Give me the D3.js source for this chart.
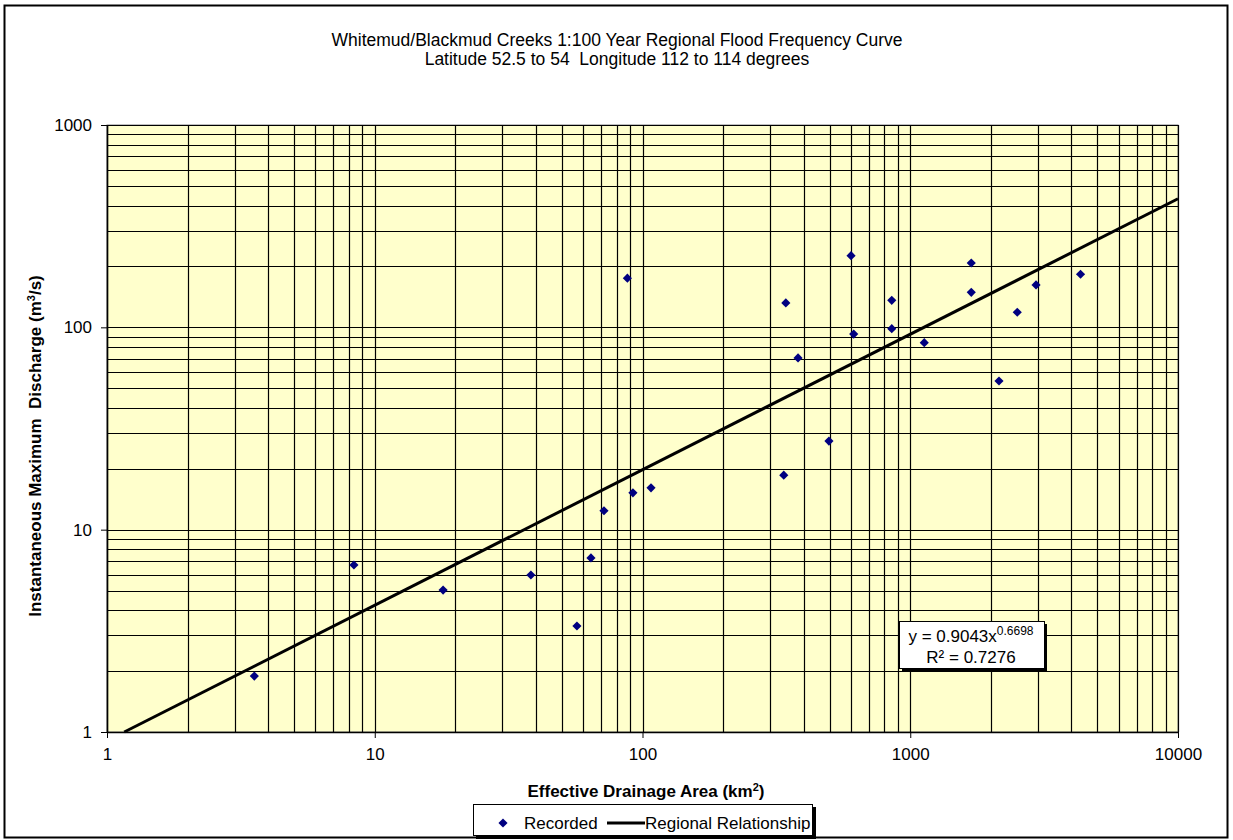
<!DOCTYPE html>
<html>
<head>
<meta charset="utf-8">
<script src="https://cdn.jsdelivr.net/npm/d3@7"></script>
<style>
  body { margin: 0; background: #fff; }
  text { font-family: "Liberation Sans", Arial, sans-serif; fill: #000; }
</style>
</head>
<body>
<div id="chart"></div>
<script>
// Recorded stations: drainage area (km2) and 1:100 year discharge (m3/s)
var area = [3.55, 8.36, 18.0, 38.3, 56.9, 64.2, 71.8, 87.8, 92.1, 107.6,
            337, 343, 381, 497, 601, 615, 853, 853, 1128, 1690,
            1690, 2145, 2510, 2950, 4325];
var discharge = [1.89, 6.69, 5.03, 5.97, 3.34, 7.25, 12.4, 175, 15.2, 16.1,
                 18.6, 132, 70.6, 27.4, 226, 92.6, 136, 98.5, 84, 208,
                 149, 54.3, 118.7, 162, 183];

// Regional relationship end points
var fitArea = [1.16, 10000];
var fitDischarge = [1.0, 432];

var xMajor = [1, 10, 100, 1000, 10000];
var yMajor = [1, 10, 100, 1000];

var titleLines = ["Whitemud/Blackmud Creeks 1:100 Year Regional Flood Frequency Curve",
                  "Latitude 52.5 to 54  Longitude 112 to 114 degrees"];

var svgWidth = 1233;
var svgHeight = 840;

var margin = { top: 125, right: 55, bottom: 108, left: 107 };
var width = 1178 - margin.left;
var height = 732 - margin.top;

var svg = d3.select("#chart")
  .append("svg")
  .attr("width", svgWidth)
  .attr("height", svgHeight);

// outer frame
svg.append("rect")
  .attr("x", 4.5).attr("y", 5.5)
  .attr("width", 1223).attr("height", 832)
  .attr("fill", "#fff")
  .attr("stroke", "#000")
  .attr("stroke-width", 2);

// title
svg.selectAll(".title").data(titleLines).enter().append("text")
  .attr("class", "title")
  .attr("x", 617)
  .attr("y", (d, i) => 46 + i * 19)
  .attr("text-anchor", "middle")
  .attr("font-size", "17.5px")
  .style("white-space", "pre")
  .text(d => d);

var chartGroup = svg.append("g")
  .attr("transform", `translate(${margin.left}, ${margin.top})`);

var xScale = d3.scaleLog().domain([1, 10000]).range([0, width]);
var yScale = d3.scaleLog().domain([1, 1000]).range([height, 0]);

// plot background
chartGroup.append("rect")
  .attr("width", width).attr("height", height)
  .attr("fill", "#ffffcc")
  .attr("stroke", "#808080");

// grid lines
chartGroup.selectAll(".vgrid").data(xScale.ticks()).enter().append("line")
  .attr("x1", d => Math.round(xScale(d)) + 0.5)
  .attr("x2", d => Math.round(xScale(d)) + 0.5)
  .attr("y1", 0).attr("y2", height)
  .attr("stroke", "#000").attr("stroke-width", 1.2);

chartGroup.selectAll(".hgrid").data(yScale.ticks()).enter().append("line")
  .attr("y1", d => Math.round(yScale(d)) + 0.5)
  .attr("y2", d => Math.round(yScale(d)) + 0.5)
  .attr("x1", 0).attr("x2", width)
  .attr("stroke", "#000").attr("stroke-width", 1.2);

// axes
var bottomAxis = d3.axisBottom(xScale).tickValues(xMajor)
  .tickFormat(d3.format("d")).tickSize(6).tickSizeOuter(0).tickPadding(10);
var leftAxis = d3.axisLeft(yScale).tickValues(yMajor)
  .tickFormat(d3.format("d")).tickSize(6).tickSizeOuter(0).tickPadding(9);

var xg = chartGroup.append("g")
  .attr("transform", `translate(0, ${height})`)
  .call(bottomAxis);
var yg = chartGroup.append("g").call(leftAxis);

[xg, yg].forEach(function(g) {
  g.selectAll("path").attr("stroke", "#000").attr("stroke-width", 1.5);
  g.selectAll("line").attr("stroke", "#000");
  g.selectAll("text")
    .attr("font-family", "'Liberation Sans', Arial, sans-serif")
    .attr("font-size", "17px")
    .attr("fill", "#222");
});

// regional relationship
chartGroup.append("path")
  .datum(fitArea.map((a, i) => [a, fitDischarge[i]]))
  .attr("d", d3.line().x(d => xScale(d[0])).y(d => yScale(d[1])))
  .attr("stroke", "#000")
  .attr("stroke-width", 3)
  .attr("fill", "none");

// recorded points
var diamond = d3.symbol().type(d3.symbolSquare).size(42);
chartGroup.selectAll(".pt")
  .data(area.map((a, i) => [a, discharge[i]]))
  .enter().append("path")
  .attr("d", diamond)
  .attr("transform", d => `translate(${xScale(d[0])}, ${yScale(d[1])}) rotate(45)`)
  .attr("fill", "#000080");

// equation box
var eq = svg.append("g");
eq.append("rect")
  .attr("x", 902).attr("y", 624).attr("width", 145).attr("height", 48)
  .attr("fill", "#000");
eq.append("rect")
  .attr("x", 899.5).attr("y", 621.5).attr("width", 145).attr("height", 47)
  .attr("fill", "#fff").attr("stroke", "#000");
var eq1 = eq.append("text")
  .attr("x", 971).attr("y", 642)
  .attr("text-anchor", "middle")
  .attr("font-size", "17px");
eq1.append("tspan").text("y = 0.9043x");
eq1.append("tspan").attr("dy", -7).attr("font-size", "12px").text("0.6698");
eq.append("text")
  .attr("x", 971).attr("y", 663)
  .attr("text-anchor", "middle")
  .attr("font-size", "17px")
  .text("R² = 0.7276");

// axis titles
var xt = svg.append("text")
  .attr("x", 646).attr("y", 797)
  .attr("text-anchor", "middle")
  .attr("font-size", "17px")
  .attr("font-weight", "bold");
xt.append("tspan").text("Effective Drainage Area (km");
xt.append("tspan").attr("dy", -6).attr("font-size", "11px").text("2");
xt.append("tspan").attr("dy", 6).text(")");

var yt = svg.append("text")
  .attr("transform", "translate(41, 446) rotate(-90)")
  .attr("text-anchor", "middle")
  .attr("font-size", "17px")
  .attr("font-weight", "bold")
  .style("white-space", "pre");
yt.append("tspan").text("Instantaneous Maximum  Discharge (m");
yt.append("tspan").attr("dy", -6).attr("font-size", "11px").text("3");
yt.append("tspan").attr("dy", 6).text("/s)");

// legend
var lg = svg.append("g");
lg.append("rect")
  .attr("x", 476).attr("y", 807).attr("width", 340).attr("height", 32)
  .attr("fill", "#000");
lg.append("rect")
  .attr("x", 473.5).attr("y", 804.5).attr("width", 339).attr("height", 31)
  .attr("fill", "#fff").attr("stroke", "#000");
lg.append("path")
  .attr("d", diamond)
  .attr("transform", "translate(503, 823) rotate(45)")
  .attr("fill", "#000080");
lg.append("text")
  .attr("x", 524).attr("y", 829)
  .attr("font-size", "17px")
  .text("Recorded");
lg.append("line")
  .attr("x1", 607).attr("x2", 645)
  .attr("y1", 823).attr("y2", 823)
  .attr("stroke", "#000").attr("stroke-width", 3);
lg.append("text")
  .attr("x", 645).attr("y", 829)
  .attr("font-size", "17px")
  .text("Regional Relationship");
</script>
</body>
</html>
